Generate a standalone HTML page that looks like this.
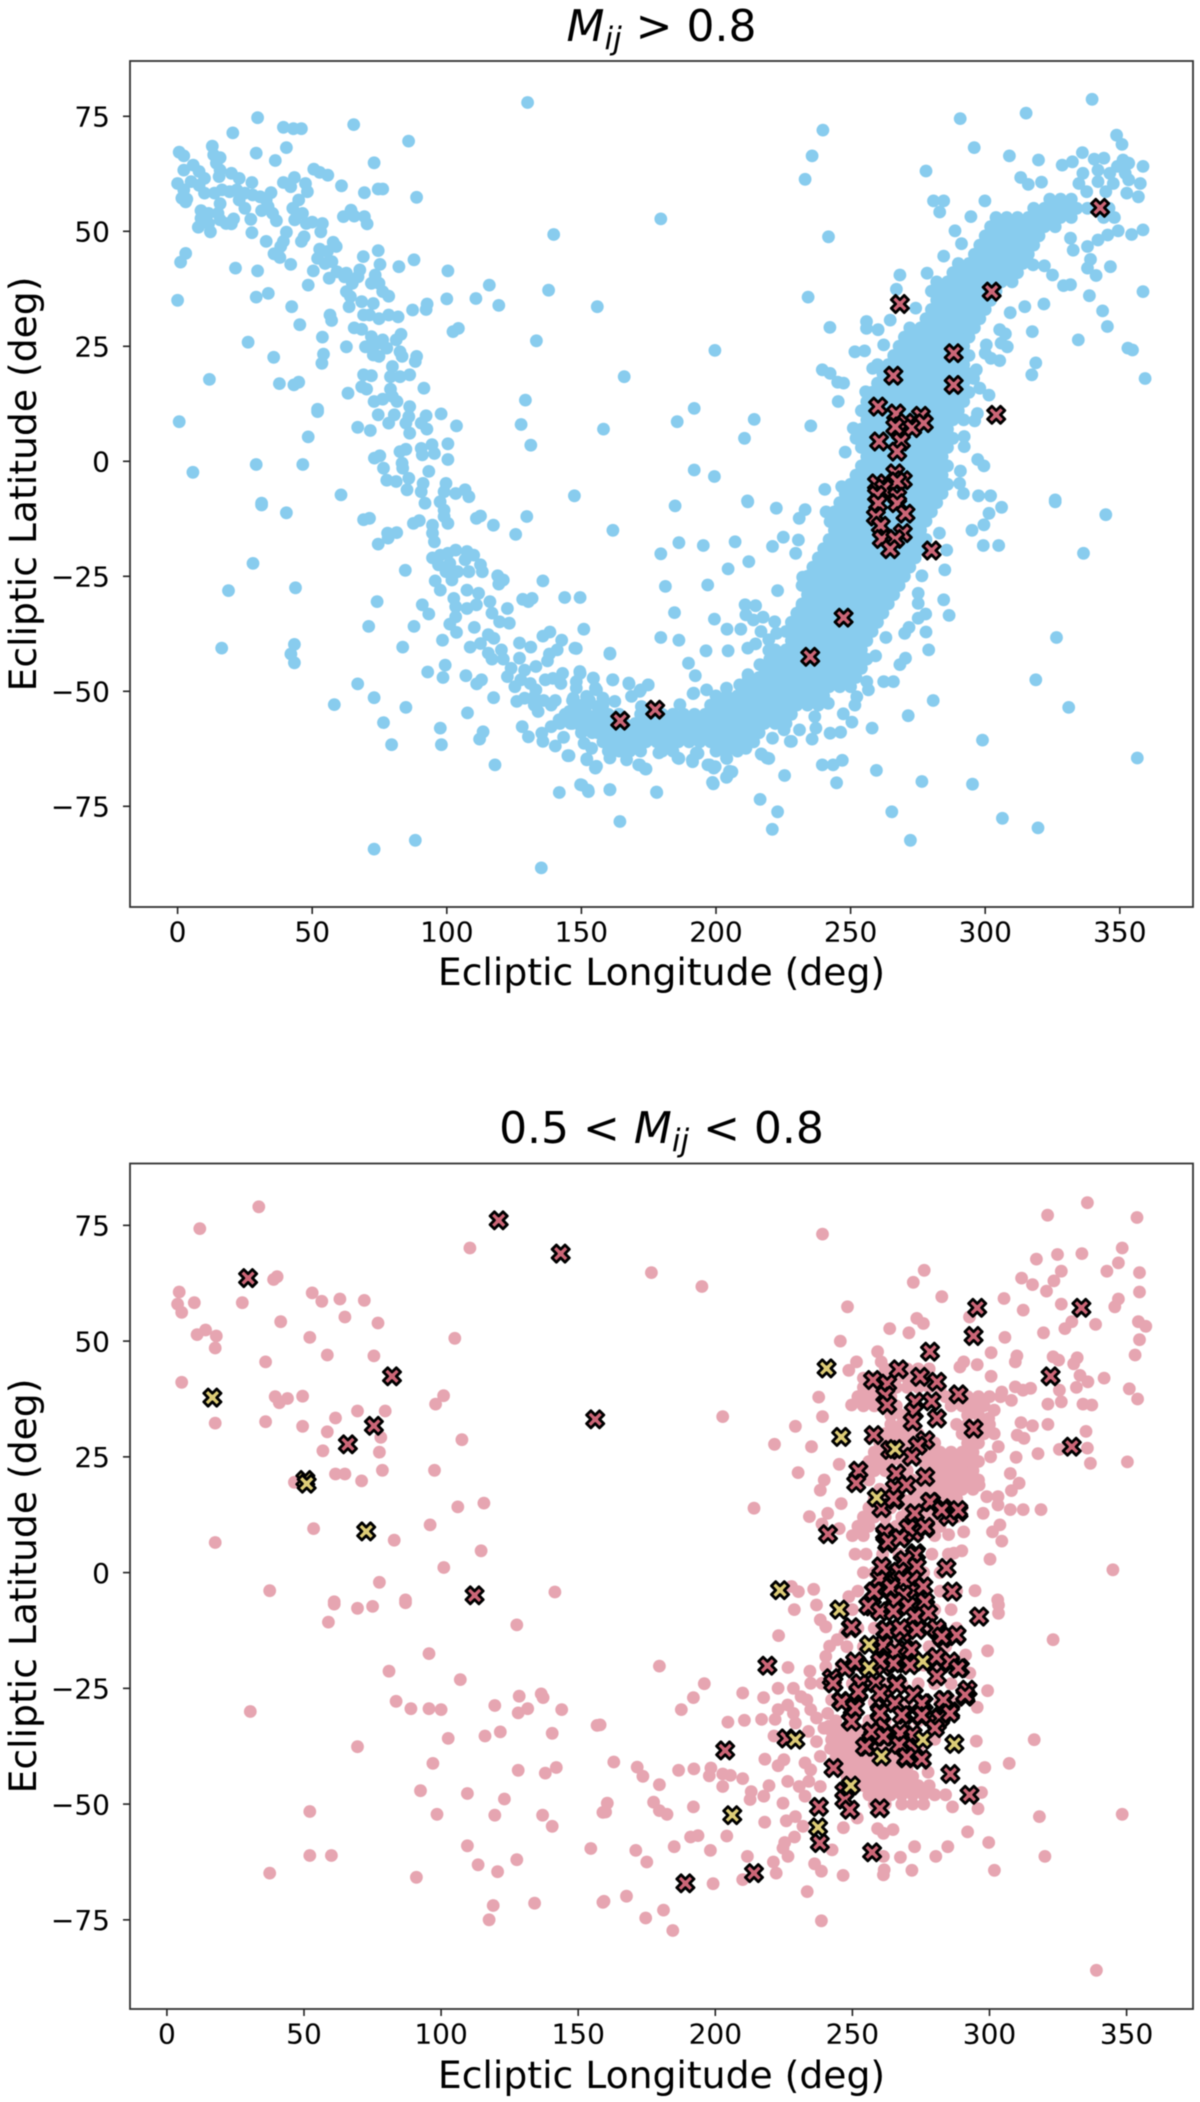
<!DOCTYPE html>
<html lang="en">
<head>
<meta charset="utf-8">
<title>Ecliptic coordinates of matched sources</title>
<style>
html,body{margin:0;padding:0;background:#fff;}
svg{display:block;filter:blur(0.5px);}
text{font-family:"DejaVu Sans","Liberation Sans",sans-serif;fill:#000;}
</style>
</head>
<body>
<svg id="figure" xmlns="http://www.w3.org/2000/svg" width="1200" height="2102" viewBox="0 0 1200 2102">
  <rect x="0" y="0" width="1200" height="2102" fill="#fff"/>
  <text id="title-top" x="661.5" y="41" text-anchor="middle" font-size="44"><tspan font-style="italic">M</tspan><tspan font-style="italic" font-size="31" dy="8">ij</tspan><tspan dy="-8"> &gt; 0.8</tspan></text>
  <text id="title-bottom" x="661.5" y="1143" text-anchor="middle" font-size="44">0.5 &lt; <tspan font-style="italic">M</tspan><tspan font-style="italic" font-size="31" dy="8">ij</tspan><tspan dy="-8"> &lt; 0.8</tspan></text>
  <g id="panel-top"></g>
  <g id="panel-bottom"></g>
  <text x="661.5" y="985" text-anchor="middle" font-size="37.7">Ecliptic Longitude (deg)</text>
  <text x="661.5" y="2088" text-anchor="middle" font-size="37.7">Ecliptic Longitude (deg)</text>
  <text transform="translate(36,484) rotate(-90)" text-anchor="middle" font-size="37.7">Ecliptic Latitude (deg)</text>
  <text transform="translate(36,1586) rotate(-90)" text-anchor="middle" font-size="37.7">Ecliptic Latitude (deg)</text>
</svg>
<script>
const xTickValues = [0, 50, 100, 150, 200, 250, 300, 350];
const yTickValues = [75, 50, 25, 0, -25, -50, -75];

/* Top panel: interleaved lon,lat readings of the scattered blue points */
const blueNorthLonLat = [29.7,74.7,20.5,71.4,39.3,72.6,43,72.3,46,72.3,65.4,73.2,85.8,69.6,130,78,0.6,67.2,2.3,66.4,12.9,68.5,29.2,67,40.4,68.2,36.3,65.4,73,64.9,13.4,66.6,15.8,66,14.4,64.8,5.8,64.4,2.3,63.3,8,63,10,61.5,15.8,63.3,15.4,61.9,20,62.6,22.9,61.5,0,60.4,5,60.8,2.3,59,8,60,10,58.3,3.4,57,1.6,57.2,3,56.4,13.7,58.3,16.5,59,19.3,58.6,22,59,25,58.3,27.6,60.6,27.9,57.9,30.7,57.5,34.7,58.4,32.9,56.8,22.9,56.8,25,55,27.2,52.6,15.8,56,33.6,55.4,31.2,54.5,35.3,53.9,36.7,52.3,8.7,54.5,11.5,53.9,8.7,52.8,15,53.9,15.8,52.5,20.8,52.7,18,51.7,20,51.6,7.7,50.9,12.2,49.9,11.5,51.7,27.6,49.7,3,45.2,1.1,43.3,21.5,42,29.7,41.4,32.9,47.8,40.4,49.8,39.3,47.8,38.3,46.7,35.8,45.1,38,44.3,42,42.8,0,35,29.2,35.7,33.7,36.5,42.4,33.6,45.4,29.7,26.2,25.9,35.7,22.6,11.8,17.8,37.8,16.9,43.2,16.6,45,17.2,0.6,8.6,5.7,-2.4,29.2,-0.7,46.5,-0.7,48.5,5.3,52,11.3,52,10.8,63.3,14.8,62.7,24.9,53.8,27,54.2,23.3,53.6,21.3,56.6,31.8,57.2,30.6,48.5,38.3];
const blueStreamUpperLonLat = [39.3,60.6,43.4,61.7,42,59.7,47.5,60.4,48.2,58.6,45,56.8,42.8,55,46.4,53.9,43.5,52.5,47.8,51.7,50,52,53.8,51.7,53.2,49.9,47,48.8,46,47.8,50.6,63.5,52.8,62.8,55.8,62.2,60.9,59.9,69.4,58.4,74.5,59.2,76.2,59.2,88.8,57.4,61.6,53.2,64.4,54.6,65.6,53.3,69.4,53.2,70.4,51.6,57.8,47.6,58.9,46.7,52.8,46.1,55.6,45.6,52,44.1,54.8,43,57.3,43.4,50.4,41.4,56.3,39.8,59.2,41.2,62,40.1,62.7,40.9,64.9,38.7,67.7,41.6,67,40.1,62.7,36.9,64.2,35.8,63.7,33.6,69,44.5,74.5,45.8,75.2,42.8,82.2,42.3,87.8,43.8,100.4,41.4,73.4,40.5,72,38.7,74.8,38.7,76.2,36.9,78.4,35.9,68.4,34.7,72.7,34.3,87.3,32.9,92.7,34.2,92.3,33,100,35.3,110.8,35.4,115.8,38.3,119.3,33.9,137.8,37.2,155.9,33.6,69.1,31.8,71.3,31.8,74.8,31,78.4,31.8,81.9,31.4,65.6,29,68.4,28.7,83,27.6,102.3,28.2,104.3,28.9,72,27.1,69.8,24.9,72.7,24.9,74.8,25.7,76.2,26.4,77.7,24.6,81.2,26.4,72.7,23.1,74.8,22.8,82.6,23.8,83.4,22.8,88.8,22.8,88.3,21.7,79.8,20.6,79.1,18.4,82.6,18.4,86.2,18.8,69.1,18.8,72,18.6,68.4,16.2,70.2,15.7,79.1,15.7,91.5,15.9,79.8,14.1,81.5,13,73,13,76.2,13.5,86.2,11.9,97.9,10.3,74.5,10.1,80.5,10.1,85.9,9.7,92.3,9.9,78.4,8.3,84.8,8.3,90.5,8.3,92.6,7,86.2,6.1,103.6,7.7,66.9,7.4,71.6,6.7,129.2,13.3,127.6,8,131.2,3.5,133.3,26.2,139.7,49.3,82.6,2.1,84.8,2.6,90.5,2.8,94.5,3.6,100.4,3.8,90.9,1.4,95.4,1.7,100.4,0.4,73.1,0.7,75.1,1.2,83.4,-0.4,83.6,-1.5,76.5,-1.5,93.3,-2.2,77.7,-4.1,81.2,-4.4,85.9,-3.7,91.2,-4.8,99.7,-4.8,85.2,-6.2,90.5,-6.6,99,-6.6,103.3,-7,106.8,-6.2,108.2,-7.7,60.7,-7.3,147.4,-7.5,31.2,-9.1];
const blueStreamLowerLonLat = [31.2,-9.5,40.4,-11.2,69.1,-12.7,71.3,-12.4,91.9,-9.1,97.5,-8.8,99,-10.6,87.6,-13.5,89.8,-12.9,94.7,-13.9,100.4,-13.5,99,-12,94.7,-15.6,95.4,-17.5,111,-12.4,112.5,-11.9,117.3,-13.9,125.6,-15.9,129.7,-12,78,-15.6,81.4,-15.5,74.5,-18,78.2,-16.7,94.7,-21,97.6,-20.4,100.4,-20,103.3,-19.3,107.5,-19.6,110,-20.4,96.9,-22.5,101.1,-22.2,106.8,-21.4,112.5,-22.5,99.7,-24,104,-24,108.2,-24,113.2,-24,95.7,-26,101.9,-25.8,97.6,-28,118.9,-24.9,121,-25.8,119.3,-26.7,84.6,-23.7,28,-22.2,18.9,-28.1,43.8,-27.5,74.1,-30.5,90.9,-31.2,93.3,-33.2,71,-35.9,87.8,-35.9,135.7,-26,143.8,-29.6,149.5,-29.6,128.2,-30,131.7,-29.8,130.3,-30.5,122.5,-32,150.9,-36.5,102.6,-29.8,103.3,-31.6,107.5,-28,107.5,-32,111.8,-28.7,111,-31.2,116,-30.5,116.8,-33,119.6,-34.9,123.2,-35.2,103.3,-33.8,101.1,-35.4,103.6,-37.2,110.2,-36.1,98.4,-38.9,83.6,-40.4,108.7,-40.4,115.4,-37.7,117.5,-38.5,112.5,-39.6,127,-39.5,131.2,-40.4,135.7,-38,138.3,-37.1,148.1,-40.7,142.7,-38.9,141,-41,138.1,-41.9,137.4,-43.4,115.4,-41.7,116.8,-43,120.3,-41,121,-43,127,-42.8,133.1,-44.6,99.4,-44.3,92.9,-45.8,98.6,-47,107.1,-46.6,112.9,-47.5,111.1,-48.4,16.4,-40.6,43.4,-39.8,42.1,-41.9,43.4,-43.8,66.9,-48.4,58.2,-52.9,73,-51.4,84.8,-53.5,76.5,-56.8,79.5,-61.6,97.6,-58,98,-61.6,107.7,-54.7,117.4,-51.4,113.5,-58.8,112.2,-60.4,117.9,-66,73,-84.3,88.3,-82.4,135.1,-88.4,141.8,-72,150.2,-70.4,152.6,-71.8,145.4,-64,152,-64.9,155.2,-66.7,140.3,-61.9,135.7,-60.9,130.3,-59.9,128,-57.7,135.3,-59.1,143.4,-60,153.8,-62.4,151,-61.3,123.9,-45,122.5,-46.8,125.3,-49,128.9,-45.4,127.5,-47.5,131,-48.3,133.1,-49.7,136.6,-47.5,139.4,-47.2,143,-46.1,142.4,-48.3,148.1,-47.9,149.5,-46.1,148.1,-49.3,154.5,-47.2,155.2,-49.3,126,-52.2,128.9,-51.5,132.5,-51.2,132.5,-53,133.9,-54.4,136,-52,138.8,-53,140.3,-52,146.7,-52,150.2,-53,145.5,-54.4,153,-52,156,-53.3,141.7,-56.2,138.8,-57.7,146.7,-57,150.2,-56.2,153.8,-55.5,150.2,-58.4,154.5,-58.4];
const blueSouthEastLonLat = [184.8,-9.7,161.7,-15,186.2,-17.7,179.5,-20.1,195.3,-18.3,207.1,-17.5,212.2,-21.8,204.5,-23.4,181.2,-27.2,196.9,-26.9,222.9,-28.1,221,-18.5,225,-16.5,230.6,-17.1,229.6,-20,211.8,-8.8,222.4,-10.2,233.1,-10.5,230.9,-12.4,240.9,-11,242.4,-13.1,184.6,-32.9,199.4,-34.3,204.1,-36.5,209.2,-36.5,179.5,-38.3,186.2,-38.9,196.3,-41.2,204.5,-41.2,211.8,-40.6,214.7,-39.7,219.6,-41.1,189.8,-43.9,192.3,-46.6,160.6,-41.9,161.7,-47.5,167.7,-48.4,174.8,-48.6,172,-49.7,191.7,-50.4,210.8,-31.2,214.7,-31.4,211.1,-33.4,217.5,-33.9,213.9,-34.5,221.8,-34.9,216.7,-37,222.5,-37.4,219.6,-38.8,232,-31.4,230.6,-33.8,229.6,-35.9,232.2,-25.2,295.1,-15,299.5,-13.8,299.3,-18.3,305,-18.3,301.4,-11.3,306.1,-10,326,-8.8,344.8,-11.6,336.5,-20,283,-15.6,285.7,-19.3,285,-23.6,276.5,-24.9,284.6,-30.1,286.6,-33.5,275.1,-28.7,275.1,-30.9,277.9,-33.2,275.1,-34.1,271.7,-36.1,270.1,-37.4,278,-37.1,279,-41,263.1,-38.3,270.4,-42.8,268.3,-44.2,262.3,-47.9,265.9,-47.9,280.7,-52,271.4,-55.3,258,-58,242.4,-59.1,246.3,-58.9,247.3,-54.9,250.5,-56.7,237.1,-58,235.7,-60.4,228,-60.9,239.5,-66,243.5,-66,246.9,-65,259.6,-67.2,244.8,-69.9,225.5,-68.3,276.5,-69.6,295.3,-70.2,216.4,-73.5,222.9,-76.2,220.9,-80,265.3,-76.2,272.2,-82.4,306.4,-77.6,319.6,-79.7,299,-60.6,356.5,-64.5,331,-53.5,318.8,-47.5,326.5,-38.3,160.6,-71.4,178,-72,164.3,-78.3,199,-70.1,204,-68.6,205.9,-67.5,173.8,-66.9,171.3,-66,186.2,-64.6,191.2,-64.9,193.3,-63.5,197.6,-66,199.7,-66.4,204,-64.6,216.8,-63.6,219.6,-64.6,236.7,-55.5,231,-58.4,225.3,-58.4,221,-60.2,211.1,-62.4,256,-47.9,256.6,-49.7,252.3,-51.2,251.6,-53,241.7,-52.6,259.3,-42.3];
const blueBandEdgeLonLat = [145,-64,152,-64.7,155.6,-66.3,160.6,-64.5,166.8,-64.9,171.7,-66,174,-66.9,160.6,-71.4,152.5,-71.5,149.7,-70.3,177.9,-71.9,178.8,-63.4,185.9,-64.5,191.3,-65.3,192.7,-63.4,197,-66,199.2,-66.7,203.9,-64.5,205,-67.4,203.9,-68.7,198.7,-69.8,210.7,-62,216.9,-63.7,219,-64.5,227.6,-60.9,147.6,-40.6,160.6,-41.7,149.4,-45.7,154.4,-47.1,161.6,-47.5,167.6,-48.2,174.8,-48.6,171.7,-50,168.6,-51.1,155.6,-49.7,147,-51.5,151.9,-51.1,158,-51.5,162.4,-52.2,172.3,-53.3,186.6,-52.9,191.5,-50.5,196.5,-49.7,203.9,-49.3,211.9,-46.4,216.3,-44.2,208.8,-48.6];
const blueNorthEastLonLat = [339.7,78.7,315.2,75.7,290.7,74.5,295.9,68.2,309,66.4,278,63.1,319.8,65.5,328.6,64.4,332.4,65.1,336.1,67.1,348.8,70.9,350.8,68.9,340.5,65.7,344.1,65.9,358.6,64.1,351.2,65.5,353.3,64.8,349.1,64.1,336.3,62.6,341.9,63.3,346.3,62.6,352,62.6,334.8,60.4,341.9,60.8,347.6,60.4,353.3,61.2,357.6,60.4,337.7,58.6,344.8,58.6,352.6,58.3,356.9,57.5,313.2,61.7,316,60.2,320.9,60.7,239.7,72,235.7,66.4,233.1,61.3,179.5,52.7,241.8,48.8,280.8,56.6,284.6,56.6,283.1,54.2,299.9,56.6,294.7,53.2,288.8,50.1,291.2,47.3,284.6,44.6,278.4,40.9,268.3,40.5,267,37.4,234.2,35.7,242.3,29.1,264.7,30.7,274.2,33.3,255.9,30.4,255.9,28.9,260.2,28.6,199.6,24.1,165.9,18.4,191.9,11.5,185.6,8.6,214.2,9.1,210.6,5,158.2,7,235.2,7.7,191.9,-1.9,199.4,-3.3,211.7,-8.6,240.4,-6.1,246.7,-5.5,248,2,245.4,13,239.5,19.9,242.4,19.1,245.2,17.2,247.4,17,251.6,23.8,255.2,24,262.3,25.3,258.2,20.2,255.6,15.1,251,7.2,358.6,50.3,354.4,49.3,349.4,50.1,345.5,49.2,341.9,48.1,338,46.7,331.7,48.5,332.7,45.9,339.1,43.9,338,42,341.2,40.4,346.5,42.3,325,40.5,329.1,38.2,331.7,38.4,322,42.5,317.8,42.7,338.7,36,358.6,36.9,343.6,32.7,345.4,29.3,334.6,26.4,353,24.6,354.7,24.2,359.4,18,318.8,21.4,317.3,18.8,321.8,34.2,314.7,33.6,309.3,32.3,317.5,28.2,305.4,28.6,307.5,27.7,308.2,24.9,305.9,25.7,300.4,25.3,300,23.5,305.4,21.9,302.1,22.4,296.7,19.9,295.7,18,298,15.9,301.4,14.4,297.1,10.4,296.1,8.8,292.2,5.4,292.2,3.2,297.2,0.4,299.5,-1,290.8,-2.1,290.5,-4.8,291.9,-7,297.5,-7.5,302,-7.5,326,-8.4];
/* Top panel dense ridge: each row is [latitude, lon, lon, ...] */
const blueRidgeRows = [
[57,324,328,332],
[55,318,322,326,330,334,338,342,346],
[53,304,308,312,316,320,324,328,332,344,348],
[51,302,306,310,314,318,322,326],
[49,300,304,308,312,316,320],
[47,298,302,306,310,314,318],
[45,296,300,304,308,312,316],
[43,290,294,298,302,306,310,314],
[41,288,292,296,300,304,308,312],
[39,282,286,290,294,298,302,306,310],
[37,280,284,288,292,296,300,304],
[35,282,286,290,294,298,302],
[33,280,284,288,292,296,300],
[31,278,282,286,290,294,298],
[29,272,276,280,284,288,292,296],
[27,270,274,278,282,286,290,294],
[25,268,272,276,280,284,288,292],
[23,266,270,274,278,282,286,290,294],
[21,260,264,268,272,276,280,284,288,292],
[19,262,266,270,274,278,282,286,290,294],
[17,260,264,268,272,276,280,284,288,292],
[15,258,262,266,270,274,278,282,286,290,294],
[13,256,260,264,268,272,276,280,284,288,292],
[11,254,258,262,266,270,274,278,282,286,290],
[9,256,260,264,268,272,276,280,284,288,292],
[7,254,258,262,266,270,274,278,282,286],
[5,252,256,260,264,268,272,276,280,284,288],
[3,254,258,262,266,270,274,278,282,286],
[1,256,260,264,268,272,276,280,284],
[-1,254,258,262,266,270,274,278,282,286],
[-3,252,256,260,264,268,272,276,280,284],
[-5,250,254,258,262,266,270,274,278,282,286],
[-7,248,252,256,260,264,268,272,276,280,284],
[-9,246,250,254,258,262,266,270,274,278,282],
[-11,244,248,252,256,260,264,268,272,276,280],
[-13,246,250,254,258,262,266,270,274,278],
[-15,244,248,252,256,260,264,268,272,276],
[-17,242,246,250,254,258,262,266,270,274,278],
[-19,240,244,248,252,256,260,264,268,272,276],
[-21,238,242,246,250,254,258,262,266,270,274],
[-23,236,240,244,248,252,256,260,264,268,272],
[-25,234,238,242,246,250,254,258,262,266,270],
[-27,232,236,240,244,248,252,256,260,264,268],
[-29,234,238,242,246,250,254,258,262,266],
[-31,232,236,240,244,248,252,256,260,264],
[-33,230,234,238,242,246,250,254,258,262],
[-35,228,232,236,240,244,248,252,256,260],
[-37,226,230,234,238,242,246,250,254,258],
[-39,228,232,236,240,244,248,252,256],
[-41,222,226,230,234,238,242,246,250,254],
[-43,220,224,228,232,236,240,244,248,252,256],
[-45,218,222,226,230,234,238,242,246,250,254],
[-47,212,216,220,224,228,232,236,240,244,248,252],
[-49,210,214,218,222,226,230,234,238,242,246,250],
[-51,200,204,208,212,216,220,224,228,232,236,240],
[-53,198,202,206,210,214,218,222,226,230,234,238],
[-55,172,176,180,184,188,192,196,200,204,208,212,216,220,224,228],
[-57,186,190,194,198,202,206,210,214,218,222,226],
[-59,176,180,184,188,192,196,200,204,208,212,216],
[-61,158,162,166,170,174,178,182,186,190,194,198,202,206,210,214],
[-63,160,164,168,172,180,184,200,204,208],
[-57,142,146,150,154,158,162,166,170,174,178,182],
[-59,150,154,156,160,164,168,172],
[-55,144,148,152,156,160,164],
[-53,148,152,158]
];
const topCrossLonLat = [342.7,55.1,302.4,36.9,268.3,34.2,288.3,23.5,288.3,16.6,265.9,18.6,260.2,11.9,266.9,10.4,276.1,9.9,270.5,8.4,266.6,7.5,272.9,7.2,277.2,8.3,304.1,10.1,260.6,4.3,268.7,4.3,267.3,2.1,266.6,-2.6,269.4,-4.1,267.3,-4.4,259.8,-4.8,262.3,-5.9,259.8,-7.3,267.3,-7.7,260.2,-9.1,267.3,-9.1,270.4,-11.4,259.4,-12,261.2,-14,269.4,-15.6,261.6,-16.9,266.6,-16.9,264.7,-19.1,280.1,-19.4,247.4,-34,235,-42.5,177.4,-54,164.4,-56.4];

/* Bottom panel */
const pinkWestLonLat = [33.5,79,12,74.3,110.5,70.1,38.9,63.3,40.2,63.9,4.5,60.6,3.9,58,5.4,56.2,10,58.3,27.5,58.3,53,60.4,56.5,58.6,63.1,59.1,72,58.8,41.5,54.2,64.9,55.2,77,53.9,11,51.4,14.1,52.4,18,51.1,17.6,48.5,52.1,50.8,105,50.6,58.5,47,75.5,46.8,36,45.5,5.4,41.1,100.9,38.2,98,36.4,49.5,38.1,39.5,38,41,36.7,44,37.6,69.5,34.9,79.6,34.9,61.5,33.4,36,32.6,17.6,32.3,49.5,31.6,58.5,30.4,78,29.2,107.6,28.7,56.9,26.3,77.5,26,61.5,21.3,64.9,21.3,78.6,22.1,97.6,22.1,71,19.8,46.5,19.5,115.6,15,106.1,14.2,96,10.3,53.5,9.5,17.6,6.5,82.9,7,114.6,4.7,101,1.1,37.5,-3.9,77.5,-2.1,141.5,-4.2,61,-6.3,87,-5.9,61,-6.8,69.5,-7.7,75,-7.3,87,-6.5,58.9,-10.7,127.6,-11.3,95.6,-17.5,81,-21.3,107,-23.1,128.5,-26.7,136.5,-26.2,137.2,-27,83.6,-27.8,119.6,-28.7,30.4,-30,89,-29.4,95.6,-29.4,100,-29.6,128.1,-30.3,131.6,-29.4,144,-29.6,156.9,-33,121.6,-34.4,116,-35.3,102.6,-35.8,140.5,-34.7,69.5,-37.6,97,-41.2,128.1,-42.7,138,-43.3,142,-42.1,92.5,-47.1,109.6,-47.7,123.1,-48.9,52.1,-51.6,98.5,-52.2,119.6,-52.4,137,-52.4,140.5,-54.8,159,-51.8,109.6,-59,154.6,-59.6,52.1,-61.1,60,-61.1,127.6,-62,113.5,-63.1,120.6,-64.6,37.5,-64.9,91,-65.8,119,-71.9,134.1,-71.4,159,-71.2,117.5,-75];
const pinkSouthLonLat = [158,-32.9,163,-40.9,171.5,-42,173.6,-44,179.6,-20.2,196,-24,192,-27,187.6,-29.6,179.6,-45.8,186.6,-42.7,192.2,-42.4,198.4,-42.2,197.8,-43.9,202.7,-43.5,205.5,-43.8,202.7,-46.2,210,-44.5,160.6,-49.8,160,-51.7,177.5,-49.6,179.6,-51.4,182.4,-52.2,192,-50.6,213.1,-47.3,212.7,-49,217.7,-48.3,219.6,-46,171,-60,175,-62.5,185,-59.2,191,-57.1,193.7,-56.8,198.2,-60,204.2,-56.9,211.7,-61.3,224.7,-49.8,218,-53.9,225.9,-53.6,229.2,-52.7,232,-54.8,228.9,-57.1,225.3,-58.3,224.7,-59.5,226.5,-61.3,221.2,-62.5,222.2,-64.9,210,-66.3,199.2,-67.2,167.6,-69.9,159.4,-71,181.1,-72.9,174.6,-74.6,184.5,-77.3,233.5,-68.9,238.7,-75.2,246.6,-65.4,238.7,-64.5,236.2,-62.9,242.6,-59.9,246.7,-55.1,251.8,-53,261.3,-56.3,259.2,-55.3,264.8,-55.5,261.3,-61.3,267.5,-61.5,272.7,-59.2,280.4,-61.3,284.8,-59.2,271.7,-64.3,261.3,-65.3,261.6,-64.2,292,-56,299.7,-58.3,301.8,-64.3,320.2,-61.3,318.2,-52.7,348.4,-52.2,339,-85.9,323.2,-14.5,299.3,-16.9,291.3,-17.8,292.8,-21.7,299.3,-25.5,295.5,-29.1,295.2,-36.4,298.3,-42.1,307.2,-41.2,316.3,-36.1,297.1,-47.5,295.8,-51,286.5,-50.6,277.6,-43.1,223.1,-13.6,228.8,-8,236.9,-7,303.3,-7,303.3,-8.8,226.5,-20.5,234.5,-21.3,210,-26,217.6,-27,222.9,-25,228.5,-25,231.3,-26.8,234.8,-23.9,238.9,-23.9,233.4,-27.5,226.4,-28.6,222.9,-29.6,228.5,-30.4,234.8,-29.6,216.9,-31.7,210.6,-31.9,204.6,-32.3,221.8,-31.7,236.9,-31.4,229.2,-32.5,241,-30.4,242.4,-27.5,239.6,-33.6,241.4,-33.2,221.4,-35.3,236.9,-36.5,242.4,-36.1,234,-34.3,238.3,-39.7,218.1,-40.3,222.9,-41.7,225,-40.4,232.7,-41.1,234.8,-42.6,226.4,-45.1,230.6,-46.2,234.1,-45.1,238.3,-46.2,232.7,-48.3,241.7,-15.9,244.5,-14.5,240.3,-18.1,240.3,-20.3,247.3,-13.1,238.3,-10.2,240.3,-11.7];
const pinkNorthEastLonLat = [239.1,73.1,176.7,64.8,195.1,61.8,276.2,65.3,272.2,62.7,282.6,59.6,248.2,57.4,273.5,54.9,275.9,53.8,263.6,52.7,270.6,51.8,245.6,50,259.2,47.7,260.5,45.5,251.5,45.5,248.7,43.7,237.7,37.9,249.7,36.2,239.1,33.7,229.2,31.6,202.7,33.7,221.6,27.7,235.1,27.2,245.2,23.4,230.2,21.6,239.7,20,238.3,17.8,245.9,14.9,214.1,13.9,234.3,12.1,241,12.8,238.9,10.5,245.2,9.5,227.8,-3,230.3,-4.1,235.9,-3.6,248.7,-5.2,294.7,-3.9,303,-5.9,345,0.6,300.2,2.9,335.7,79.9,321.2,77.2,353.8,76.7,348.4,70.1,317.1,67.7,324.8,68.7,333.7,68.9,347,66.9,342.8,65.1,354.7,64.8,326.2,65.1,323.5,63,320.8,60.8,311.7,63.6,315.7,62.2,354.7,60.6,305.3,59.2,312.3,56.7,326.2,58,347,59.1,345.7,57.4,292.7,55.2,354.3,54.2,357,53.2,338.7,53.6,330,54.2,327.5,52.7,319.7,51.8,305.6,50.8,354.7,50.3,353.1,47,300.6,47.5,310,46.8,309.4,45.5,323.2,46.6,325.2,45.9,332,46.4,330.7,45.1,290.6,45.5,295.5,44.9,289.2,44.4,300.6,42.4,333,42.6,335.9,41.2,341.8,42,331.7,40,325.5,39.4,351,39.7,354,37.5,326.2,36.9,321.3,36.4,334.1,36.4,337.3,36.2,304.5,39,309.4,40.1,315,39.8,308,37.2,312.2,39.4,301.7,35.1,311.5,32.4,315.7,31.7,321.3,32,335.2,30.5,310.1,29.7,312.6,29,325.5,26.6,335.7,26.9,317.7,25.7,309.7,24.9,336.8,23.6,350.3,23.9,307.6,21.4,310.8,19.3,308,17.7,296.2,18.9,299,16.4,303.1,16.4,303.1,14.6,307.6,13.6,312.3,13.6,318.8,13.6,297.7,12.8,303.8,10.3,301.1,8.8,304.5,6.8,290.6,8.8,285.1,8.2,289.9,4.7,287,4.2,303.2,27.2,301.7,30,299.7,33.3,300.4,25];
/* Bottom panel dense core: each row is [latitude, lon, lon, ...] */
const pinkCoreRows = [
[44,262,266,270,274,278],
[42,254,258,262,266,270,274,278],
[40,254,258,262,266,270,274,278,282],
[38,252,256,260,264,284,288,292,296,300,304],
[36,254,258,262,266,286,290,294,298],
[34,264,268,272,292,296],
[32,264,268,272,288,292,296,300],
[30,262,266,270,274,290,294,298],
[28,260,264,268,272,276,280,292,296],
[26,258,262,266,270,278,282,286,290,294],
[24,256,260,264,268,276,280,284,288,292,296],
[22,254,258,262,270,278,282,286,290,294],
[20,256,268,272,276,280,284,288,292,296],
[18,260,264,274,278,282,286,290,294],
[16,258,262,268,272,276,280,284,288],
[14,256,260,264,270,274,278,282,286,290],
[12,254,258,262,268,272,276,280,284,288],
[10,252,256,262,266,270,274,278,282],
[8,250,254,262,268,274,280],
[4,251,255,261,267,273,279,285],
[0,254,258,264,270,276,282],
[-4,252,258,264,270,276,282,288],
[-8,250,256,262,268,274,280,286],
[-12,252,258,264,270,276,282,288],
[-16,248,254,260,266,272,278,284],
[-20,246,252,258,264,270,276,282,288],
[-24,244,250,256,262,268,274,280,286],
[-28,246,252,258,264,270,276,282,288],
[-32,244,250,256,262,268,274,280],
[-34,242,246,250,254,258,262,266,270],
[-36,244,248,252,256,260,264,268,272,276,280],
[-38,242,246,250,254,258,262,266,270,274],
[-40,244,248,252,256,260,264,268,272,276],
[-42,246,250,254,258,262,266,270],
[-44,248,252,256,260,264,268,272],
[-46,250,254,258,262,266,270,274,278],
[-48,256,260,264,268,272,276,280,284],
[-50,258,262,268,272,276]
];
const bottomRedCrossLonLat = [29.6,63.6,121,76.1,143.6,68.9,82.1,42.4,75.5,31.7,66,27.7,156.2,33.1,112.2,-4.9,295.5,57.2,333.5,57.2,294.2,51.1,278.3,47.7,266.9,43.9,322.3,42.4,257.5,41.6,262.7,40.8,274.7,42.3,280.8,41.2,288.7,38.5,262,38.3,262.7,36.2,272.9,36.9,278.9,37,272.4,34.7,272,32.6,280.8,33.3,294.2,31.1,257.8,29.7,276.6,28.6,273.8,27.4,330,27.2,263.8,26.5,271.7,25,252.2,22,251.4,19.3,266,21.4,276.6,20.7,265.5,18.2,269.7,18.9,260.6,13.9,265.5,15.7,278.7,15.2,283,13.9,288.7,13.1,285,12.1,272.7,12.8,276.6,9.6,241.1,8.3,262,8.1,267.5,7.4,272.4,8.5,262.7,6.3,273.2,4.2,268.3,2.3,272.4,1.3,284.3,1,260.6,1.3,266,-0.2,272.4,-0.9,260,-1.3,257.8,-4.1,264.1,-3.8,272.9,-3.8,286.4,-4.1,268.3,-5.2,296.2,-9.5,249.4,-12,257.1,-7.3,265.5,-7.3,276.6,-7.3,269.6,-7.3,262,-12.4,268.3,-13.1,273.8,-12,280.8,-12.4,283,-14.2,287.8,-13.7,261.3,-15.9,269.6,-16.7,219,-20.1,247.3,-20.6,251.5,-19.6,261.3,-20.3,266.1,-19.6,280.8,-18.5,285.7,-19.6,289.2,-20.6,280.8,-22.4,243.1,-23.9,252.9,-23.9,258.5,-23.9,266.1,-23.9,292,-25.3,291.3,-26.8,245.9,-27.7,252.2,-26,262.7,-26.4,272.4,-26.4,283.6,-27.5,250.1,-29.3,265.5,-28.2,276,-28.2,259.9,-30,269.1,-30.7,275.3,-31.1,282.2,-31.1,285.7,-30,249.4,-32,280.8,-32.5,260.6,-32.5,256.9,-34.3,257.6,-35.4,261.9,-35.4,267.8,-35,272,-35,267.8,-37.2,255.2,-37.6,272.4,-37.9,269.6,-40.1,275.2,-40.4,226,-35.8,203.6,-38.4,243.1,-42.2,285.7,-43.5,292.7,-48,247.1,-47.3,247.1,-49,237.8,-50.6,249.1,-51.2,260,-50.9,238.1,-58.4,257.2,-60.4,214.1,-64.9,189.1,-67.1];
const bottomCoreCrossLonLat = [265,16,278.3,15.3,272.8,12.8,282.6,13.5,288.6,13.5,276.5,9.9,270.4,9.6,261.9,8.5,263.1,6.7,267.4,7.4,272.8,3.8,269.2,2.7,260.7,1.3,267,0.2,272.8,-0.9,273.5,1.3,268.6,-1.6,275.9,-3,258,-4.1,264,-3.2,268.6,-4.8,276.5,-6.3,265.5,-6.3,270.4,-7.2,255.8,-7.2,260.1,-8.4,265,-8.4,272.8,-9.5,277.7,-8.8,249.7,-11.8,262.5,-12.4,267.4,-12,273.5,-12.4,280.7,-12,288,-13.5,282.6,-13.8,261.3,-15.6,265.5,-17.1,271.6,-16.7,265,-19.6,260.1,-19.2,271,-20,280.7,-18.2,285.6,-19.2,288.6,-20.7,247.3,-20.7,251,-19.2,242.5,-22.8,243,-23.9,252.2,-25.7,246.1,-27.9,251,-29.3,249.7,-32.2,260.1,-26.1,266.2,-24.3,272.2,-26.4,265.5,-28.2,275.3,-28.2,283.2,-27.5,291.1,-26.4,260.1,-30.4,268,-30.8,275.3,-30.8,282,-31.5,285.6,-30.4,257,-34.4,261.3,-35.4,267.4,-34.7,254.6,-37.6,267.1,-37.2,269.8,-39.8,275.3,-40.3,280.1,-33.6];
const bottomYellowCrossLonLat = [16.6,37.8,50.5,20,51,19.2,72.7,8.9,240.6,44.1,245.9,29.3,265.6,26.7,258.9,16.2,223.6,-3.8,245.3,-8,256.1,-15.6,275.7,-19.2,256.1,-20.6,229.2,-36.1,275.7,-36.1,287.2,-37,260.6,-39.7,249.4,-46,206.2,-52.4,237.5,-55];

const SVG_NS = 'http://www.w3.org/2000/svg';
const COLOR_BLUE = '#88CCEE';
const COLOR_PINK = '#E6A5B1';
const COLOR_RED = '#CC6677';
const COLOR_YELLOW = '#DDCC77';

function xTop(lon) { return 177.6 + 2.692 * lon; }
function yTop(lat) { return 461.3 - 4.6 * lat; }
function xBottom(lon) { return 166.9 + 2.742 * lon; }
function yBottom(lat) { return 1572.6 - 4.63 * lat; }

function addDot(parent, x, y, color, name) {
  const c = document.createElementNS(SVG_NS, 'circle');
  
  
  c.setAttribute('cx', x.toFixed(1));
  c.setAttribute('cy', y.toFixed(1));
  c.setAttribute('r', '6.4');
  c.setAttribute('fill', color);
  parent.appendChild(c);
}

function addCross(parent, x, y, color, name) {
  const k = 4.3;
  const pts = [[-1,-2],[0,-1],[1,-2],[2,-1],[1,0],[2,1],[1,2],[0,1],[-1,2],[-2,1],[-1,0],[-2,-1]];
  const p = document.createElementNS(SVG_NS, 'polygon');
  
  
  p.setAttribute('points', pts.map(function (q) {
    return (x + q[0] * k).toFixed(1) + ',' + (y + q[1] * k).toFixed(1);
  }).join(' '));
  p.setAttribute('fill', color);
  p.setAttribute('stroke', '#000');
  p.setAttribute('stroke-width', '2.8');
  p.setAttribute('stroke-linejoin', 'round');
  parent.appendChild(p);
}

function drawPairs(parent, values, xf, yf, drawer, color, name) {
  for (let i = 0; i + 1 < values.length; i += 2) {
    drawer(parent, xf(values[i]), yf(values[i + 1]), color, name);
  }
}

function drawRows(parent, rows, xf, yf, color, name) {
  rows.forEach(function (row) {
    for (let i = 1; i < row.length; i++) {
      addDot(parent, xf(row[i]), yf(row[0]), color, name);
    }
  });
}

function drawAxes(parent, box, xf, yf, prefix) {
  const frame = document.createElementNS(SVG_NS, 'rect');
  
  
  frame.setAttribute('x', box.left);
  frame.setAttribute('y', box.top);
  frame.setAttribute('width', box.right - box.left);
  frame.setAttribute('height', box.bottom - box.top);
  frame.setAttribute('fill', 'none');
  frame.setAttribute('stroke', '#333');
  frame.setAttribute('stroke-width', '1.8');
  parent.appendChild(frame);

  xTickValues.forEach(function (v) {
    const t = document.createElementNS(SVG_NS, 'line');
    
    
    t.setAttribute('x1', xf(v));
    t.setAttribute('x2', xf(v));
    t.setAttribute('y1', box.bottom);
    t.setAttribute('y2', box.bottom + 7);
    t.setAttribute('stroke', '#222');
    t.setAttribute('stroke-width', '1.6');
    parent.appendChild(t);
    const l = document.createElementNS(SVG_NS, 'text');
    
    
    l.setAttribute('x', xf(v));
    l.setAttribute('y', box.bottom + 34.5);
    l.setAttribute('text-anchor', 'middle');
    l.setAttribute('font-size', '28');
    l.textContent = String(v);
    parent.appendChild(l);
  });

  yTickValues.forEach(function (v) {
    const t = document.createElementNS(SVG_NS, 'line');
    
    
    t.setAttribute('x1', box.left - 7);
    t.setAttribute('x2', box.left);
    t.setAttribute('y1', yf(v));
    t.setAttribute('y2', yf(v));
    t.setAttribute('stroke', '#222');
    t.setAttribute('stroke-width', '1.6');
    parent.appendChild(t);
    const l = document.createElementNS(SVG_NS, 'text');
    
    
    l.setAttribute('x', box.left - 20);
    l.setAttribute('y', yf(v) + 10.2);
    l.setAttribute('text-anchor', 'end');
    l.setAttribute('font-size', '28');
    l.textContent = (v < 0 ? '\u2212' : '') + Math.abs(v);
    parent.appendChild(l);
  });
}

const topPanel = document.getElementById('panel-top');
[blueNorthLonLat, blueStreamUpperLonLat, blueStreamLowerLonLat, blueSouthEastLonLat, blueBandEdgeLonLat, blueNorthEastLonLat].forEach(function (group) {
  drawPairs(topPanel, group, xTop, yTop, addDot, COLOR_BLUE, 'strong-match-point');
});
drawRows(topPanel, blueRidgeRows, xTop, yTop, COLOR_BLUE, 'strong-match-point');
drawPairs(topPanel, topCrossLonLat, xTop, yTop, addCross, COLOR_RED, 'strong-match-cross');
drawAxes(topPanel, {left: 130, right: 1193, top: 61, bottom: 907}, xTop, yTop, 'top');

const bottomPanel = document.getElementById('panel-bottom');
[pinkWestLonLat, pinkSouthLonLat, pinkNorthEastLonLat].forEach(function (group) {
  drawPairs(bottomPanel, group, xBottom, yBottom, addDot, COLOR_PINK, 'moderate-match-point');
});
drawRows(bottomPanel, pinkCoreRows, xBottom, yBottom, COLOR_PINK, 'moderate-match-point');
drawPairs(bottomPanel, bottomRedCrossLonLat, xBottom, yBottom, addCross, COLOR_RED, 'moderate-match-red-cross');
drawPairs(bottomPanel, bottomCoreCrossLonLat, xBottom, yBottom, addCross, COLOR_RED, 'moderate-match-red-cross');
drawPairs(bottomPanel, bottomYellowCrossLonLat, xBottom, yBottom, addCross, COLOR_YELLOW, 'moderate-match-yellow-cross');
drawAxes(bottomPanel, {left: 130, right: 1193, top: 1163.5, bottom: 2009}, xBottom, yBottom, 'bottom');
</script>
</body>
</html>
